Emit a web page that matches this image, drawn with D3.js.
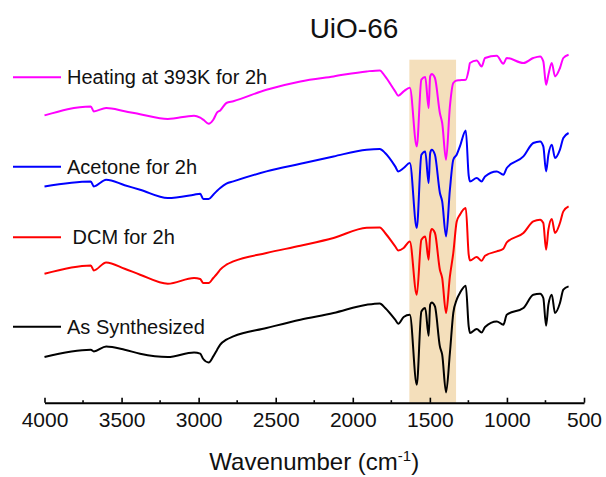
<!DOCTYPE html>
<html>
<head>
<meta charset="utf-8">
<script src="https://cdn.jsdelivr.net/npm/d3@7/dist/d3.min.js"></script>
<style>
  html, body { margin: 0; padding: 0; background: #fff; }
  svg { display: block; font-family: Arial, "Liberation Sans", sans-serif; }
</style>
</head>
<body>
<svg id="chart" width="606" height="477"></svg>
<script>
// FTIR spectra of UiO-66 after different treatments (offset, arbitrary units)
const wavenumbers = [4000, 3700, 3680, 3600, 3480, 3380, 3200, 3030, 2990, 2970,
  2935, 2905, 2880, 2860, 2820, 2775, 2560, 2340, 2125, 1910,
  1825, 1790, 1725, 1705, 1670, 1630, 1585, 1555, 1530, 1508,
  1498, 1488, 1467, 1435, 1420, 1395, 1370, 1348, 1326, 1305,
  1267, 1248, 1240, 1196, 1164, 1142, 1066, 1023, 1001, 893,
  829, 785, 764, 746, 731, 709, 688, 656, 634, 600];

const heating = [287.3, 296.3, 291.3, 294.7, 291.5, 288.5, 283.7, 287, 285, 283,
  279, 283, 290.3, 292.3, 299.7, 301.5, 313, 321.3, 326.3, 331.3,
  332.3, 326.3, 311.3, 307, 311.3, 315, 256.3, 323, 325.7, 294.7,
  326.3, 328.7, 324.7, 289.7, 279.7, 243, 296.3, 319.7, 322.3, 322.5,
  323, 333, 339.7, 342.3, 336.3, 344.7, 347, 339, 344.7, 339.7,
  344.7, 346.3, 341.3, 318, 328, 339.7, 326.3, 334.7, 344.7, 348];

const acetone = [216.3, 221.3, 216.3, 223, 217.5, 213, 204.7, 208, 209, 203.7,
  203.7, 208, 212, 214.7, 219, 221.3, 231.3, 239, 246.3, 253,
  253.7, 249.7, 236.3, 231.3, 234.7, 239.7, 174.7, 248, 251.3, 219.7,
  249.7, 253, 248, 210, 201.3, 166.3, 213, 243, 248, 256.3,
  272.3, 227, 221.3, 224.7, 221.3, 226.3, 231.3, 228, 234.7, 246.3,
  259.7, 261.3, 256.3, 231.3, 248, 258, 244.7, 253, 264.7, 269.7];

const dcm = [129, 137.3, 132.3, 140.3, 134, 128, 119, 124.7, 123.7, 119.7,
  119.7, 124.7, 129, 133, 138, 141.3, 149.7, 157, 164.7, 175,
  175.3, 169.7, 156.3, 152.3, 154.7, 161.3, 108, 163, 166.3, 143,
  168, 173.7, 169.7, 133, 124.7, 89.7, 126.3, 149.7, 181, 188,
  194.7, 148, 142.3, 145.7, 142, 147, 151.3, 154, 160.3, 169.7,
  181.3, 183, 179.7, 153, 173, 183.7, 169.7, 179.7, 191.3, 196.3];

const synthesized = [45.7, 53, 51.3, 56.3, 53, 49, 45.7, 50.3, 49, 43.7,
  40.3, 46.3, 53, 58, 63, 66.3, 74.7, 83, 89.7, 98,
  99.3, 94.7, 83, 79, 85.7, 88, 18, 91.3, 94.7, 67,
  98, 100.3, 96.3, 56.3, 48, 10.3, 49.7, 89.7, 103, 109.7,
  117, 76.3, 69.7, 73.7, 70.3, 75.7, 81.3, 78, 88, 94.7,
  108, 109, 104.7, 77, 98, 108, 89.7, 99.7, 113, 116.3];

const seriesNames = ["Heating at 393K for 2h", "Acetone for 2h", " DCM for 2h", "As Synthesized"];
const seriesColors = ["#ff00ff", "#0000ff", "#ff0000", "#000000"];
const seriesValues = [heating, acetone, dcm, synthesized];

const xTicks = [4000, 3500, 3000, 2500, 2000, 1500, 1000, 500];
const xMinorTicks = [3750, 3250, 2750, 2250, 1750, 1250, 750];
const highlightBand = [1633, 1330];   // carboxylate stretching region
const highlightTop = 343;

const svg = d3.select("#chart");
const margin = { left: 44.5, right: 22, top: 53, bottom: 74 };
const W = 606, H = 477;
const axisY = 402.7;

const x = d3.scaleLinear().domain([4000, 500]).range([margin.left, W - margin.right]);
const y = d3.scaleLinear().domain([0, 350]).range([axisY, axisY - 350]);

// highlighted band
svg.append("rect")
  .attr("x", x(highlightBand[0]))
  .attr("width", x(highlightBand[1]) - x(highlightBand[0]))
  .attr("y", y(highlightTop))
  .attr("height", axisY - y(highlightTop))
  .attr("fill", "#f4dfbb");

// spectra
const line = d3.line()
  .x(d => x(d[0]))
  .y(d => y(d[1]))
  .curve(d3.curveMonotoneX);

seriesValues.forEach((vals, i) => {
  const pts = wavenumbers.map((w, j) => [w, vals[j]]);
  svg.append("path")
    .datum(pts)
    .attr("fill", "none")
    .attr("stroke", seriesColors[i])
    .attr("stroke-width", 2)
    .attr("stroke-linejoin", "round")
    .attr("d", line);
});

// x axis with inward ticks
const axis = svg.append("g")
  .attr("transform", `translate(0,${axisY})`)
  .call(d3.axisBottom(x).tickValues(xTicks).tickSizeInner(-5).tickSizeOuter(0).tickPadding(9)
    .tickFormat(d3.format("d")));
axis.select(".domain").attr("stroke", "#000").attr("stroke-width", 2);
axis.selectAll(".tick line").attr("stroke", "#000").attr("stroke-width", 1.6);
axis.selectAll(".tick text").attr("font-size", 21).attr("fill", "#111")
  .attr("font-family", "Arial, 'Liberation Sans', sans-serif");

axis.selectAll(".minor")
  .data(xMinorTicks)
  .join("line")
  .attr("class", "minor")
  .attr("x1", d => x(d)).attr("x2", d => x(d))
  .attr("y1", 0).attr("y2", -2.5)
  .attr("stroke", "#000").attr("stroke-width", 1.6);

// axis title
const xTitle = svg.append("text")
  .attr("x", (x(4000) + x(500)) / 2)
  .attr("y", 469.5)
  .attr("text-anchor", "middle")
  .attr("font-size", 24)
  .attr("fill", "#111");
xTitle.append("tspan").text("Wavenumber (cm");
xTitle.append("tspan").attr("font-size", 15).attr("dy", -9).text("-1");
xTitle.append("tspan").attr("dy", 9).text(")");

// chart title
svg.append("text")
  .attr("x", 354)
  .attr("y", 38)
  .attr("text-anchor", "middle")
  .attr("font-size", 28)
  .attr("fill", "#111")
  .text("UiO-66");

// legend
const legendY = [77.3, 166.7, 237.3, 326.7];
const legend = svg.append("g");
seriesNames.forEach((name, i) => {
  const g = legend.append("g").attr("transform", `translate(0,${legendY[i]})`);
  g.append("line")
    .attr("x1", 13).attr("x2", 61)
    .attr("stroke", seriesColors[i]).attr("stroke-width", 2);
  g.append("text")
    .attr("x", 67).attr("y", 7)
    .attr("font-size", 20)
    .attr("fill", "#111")
    .style("white-space", "pre")
    .text(name);
});
</script>
</body>
</html>
